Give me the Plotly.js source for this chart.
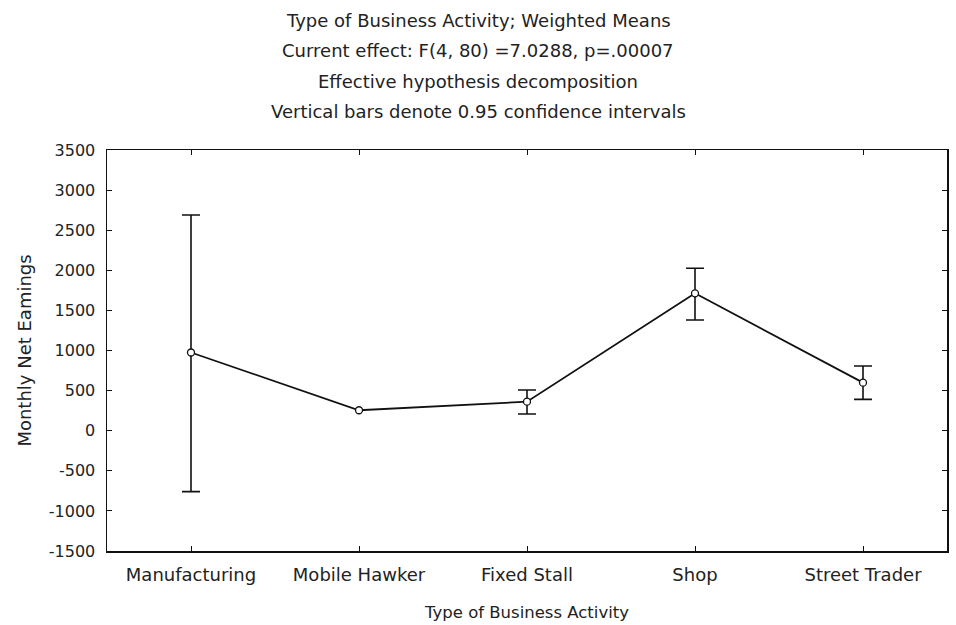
<!DOCTYPE html>
<html>
<head>
<meta charset="utf-8">
<script src="https://cdn.plot.ly/plotly-3.0.1.min.js"></script>
<style>html,body{margin:0;padding:0;background:#fff;}#chart{width:956px;height:625px;}</style>
</head>
<body>
<div id="chart"></div>
<script>
const categories = ["Manufacturing", "Mobile Hawker", "Fixed Stall", "Shop", "Street Trader"];
const means = [975, 255, 362, 1713, 599];
const upperCI = [2690, null, 507, 2025, 807];
const lowerCI = [-760, null, 208, 1380, 391];
const yTicks = [-1500, -1000, -500, 0, 500, 1000, 1500, 2000, 2500, 3000, 3500];
const titleLines = [
  "Type of Business Activity; Weighted Means",
  "Current effect: F(4, 80) =7.0288, p=.00007",
  "Effective hypothesis decomposition",
  "Vertical bars denote 0.95 confidence intervals"
];

const FONT = "DejaVu Sans, Arial, sans-serif";

const trace = {
  x: categories,
  y: means,
  type: "scatter",
  mode: "lines+markers",
  line: {color: "#111", width: 1.8},
  marker: {symbol: "circle", size: 7, color: "#fff", line: {color: "#111", width: 1.3}},
  error_y: {
    type: "data",
    symmetric: false,
    array: upperCI.map((u, i) => u === null ? NaN : u - means[i]),
    arrayminus: lowerCI.map((l, i) => l === null ? NaN : means[i] - l),
    color: "#111",
    thickness: 1.6,
    width: 9
  },
  showlegend: false,
  hoverinfo: "x+y"
};

const titleY = [1.324, 1.249, 1.170, 1.095];
const annotations = titleLines.map((t, i) => ({
  text: t, xref: "paper", yref: "paper", x: 0.4417, y: titleY[i],
  xanchor: "center", yanchor: "middle", showarrow: false,
  font: {family: FONT, size: 18, color: "#222"}
}));

const layout = {
  width: 956, height: 625,
  margin: {l: 107, r: 9, t: 150, b: 74},
  paper_bgcolor: "#fff", plot_bgcolor: "#fff",
  font: {family: FONT, color: "#222"},
  annotations: annotations,
  xaxis: {
    type: "category",
    range: [-0.5, 4.5],
    showline: true, linecolor: "#111", linewidth: 1.5, mirror: "ticks",
    ticks: "inside", ticklen: 5, tickcolor: "#111", tickwidth: 1,
    showgrid: false, zeroline: false,
    ticklabelstandoff: 7,
    tickfont: {family: FONT, size: 18, color: "#222"},
    title: {text: "Type of Business Activity", font: {family: FONT, size: 16.5, color: "#222"}, standoff: 22}
  },
  yaxis: {
    range: [-1500, 3500],
    tickvals: yTicks,
    ticktext: yTicks.map(String),
    showline: true, linecolor: "#111", linewidth: 1.5, mirror: "ticks",
    ticks: "inside", ticklen: 5, tickcolor: "#111", tickwidth: 1,
    showgrid: false, zeroline: false,
    ticklabelstandoff: 7,
    tickfont: {family: FONT, size: 16, color: "#222"},
    title: {text: "Monthly Net Eamings", font: {family: FONT, size: 18, color: "#222"}, standoff: 12}
  }
};

Plotly.newPlot("chart", [trace], layout, {displayModeBar: false, staticPlot: true});
</script>
</body>
</html>
